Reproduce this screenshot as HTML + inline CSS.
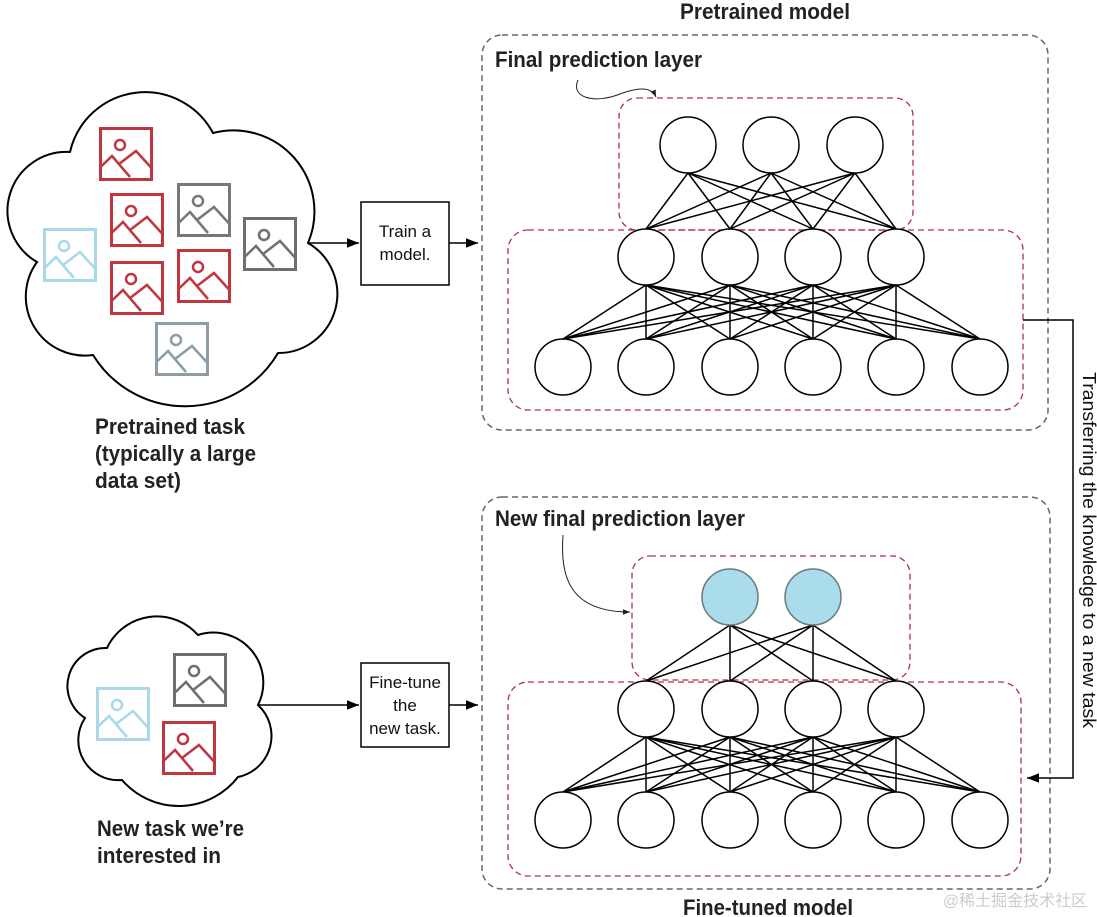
<!DOCTYPE html>
<html><head><meta charset="utf-8"><style>
html,body{margin:0;padding:0;background:#fff;}
svg{display:block;}
.b{font-family:"Liberation Sans",sans-serif;font-weight:bold;fill:#222;}
.r{font-family:"Liberation Sans",sans-serif;fill:#111;}
</style></head><body>
<svg id="s" width="1097" height="917" viewBox="0 0 1097 917" xmlns="http://www.w3.org/2000/svg">
<defs>
<marker id="ah" viewBox="0 0 10 10" refX="10" refY="5" markerWidth="8" markerHeight="8" orient="auto"><path d="M0,1 L10,5 L0,9 z" fill="#000"/></marker>
<marker id="ah2" viewBox="0 0 10 10" refX="10" refY="5" markerWidth="7" markerHeight="7" orient="auto"><path d="M0,1 L10,5 L0,9 z" fill="#222"/></marker>
<g id="ic">
<rect x="1.5" y="1.5" width="51" height="51" fill="#fff" stroke-width="3"/>
<circle cx="21" cy="18" r="5" fill="none" stroke-width="2.5"/>
<polyline points="1.5,40 13,29 31,50" fill="none" stroke-width="2.5"/>
<polyline points="20,37 37,24 52.5,41" fill="none" stroke-width="2.5"/>
</g>
</defs>

<!-- cloud 1 -->
<path d="M70,152 A77,77 0 0 1 213,133 A81,81 0 0 1 308,243 A59,59 0 0 1 278,353 A108,108 0 0 1 93,355 A59,59 0 0 1 37,262 A59,59 0 0 1 70,152 Z" fill="#fff" stroke="#000" stroke-width="2"/>
<use href="#ic" x="99" y="127" stroke="#c0363f"/>
<use href="#ic" x="110" y="193" stroke="#c0363f"/>
<use href="#ic" x="177" y="183" stroke="#777"/>
<use href="#ic" x="43" y="228" stroke="#a8d8ea"/>
<use href="#ic" x="243" y="217" stroke="#6b716c"/>
<use href="#ic" x="110" y="261" stroke="#c0363f"/>
<use href="#ic" x="177" y="249" stroke="#c0363f"/>
<use href="#ic" x="155" y="322" stroke="#8e9ca3"/>

<!-- cloud 2 -->
<path d="M107,648 A55,55 0 0 1 198,635 A50,50 0 0 1 258,705 A42,42 0 0 1 238,777 A75,75 0 0 1 122,780 A40,40 0 0 1 85,718 A38,38 0 0 1 107,648 Z" fill="#fff" stroke="#000" stroke-width="2"/>
<use href="#ic" x="173" y="653" stroke="#6b716c"/>
<use href="#ic" x="96" y="687" stroke="#a8d8ea"/>
<use href="#ic" x="162" y="721" stroke="#c0363f"/>

<text class="b" x="95" y="434" font-size="22" textLength="150" lengthAdjust="spacingAndGlyphs">Pretrained task</text>
<text class="b" x="95" y="461" font-size="22" textLength="161" lengthAdjust="spacingAndGlyphs">(typically a large</text>
<text class="b" x="95" y="488" font-size="22" textLength="86" lengthAdjust="spacingAndGlyphs">data set)</text>
<text class="b" x="97" y="836" font-size="22" textLength="147" lengthAdjust="spacingAndGlyphs">New task we’re</text>
<text class="b" x="97" y="863" font-size="22" textLength="124" lengthAdjust="spacingAndGlyphs">interested in</text>

<!-- process boxes -->
<line x1="308" y1="243" x2="359" y2="243" stroke="#000" stroke-width="1.5" marker-end="url(#ah)"/>
<rect x="361" y="202" width="88" height="83" fill="#fff" stroke="#000" stroke-width="1.5"/>
<text class="r" x="405" y="237" font-size="17" text-anchor="middle">Train a</text>
<text class="r" x="405" y="260" font-size="17" text-anchor="middle">model.</text>
<line x1="449" y1="243" x2="478" y2="243" stroke="#000" stroke-width="1.5" marker-end="url(#ah)"/>

<line x1="258" y1="705" x2="359" y2="705" stroke="#000" stroke-width="1.5" marker-end="url(#ah)"/>
<rect x="361" y="663" width="88" height="84" fill="#fff" stroke="#000" stroke-width="1.5"/>
<text class="r" x="405" y="688" font-size="17" text-anchor="middle">Fine-tune</text>
<text class="r" x="405" y="711" font-size="17" text-anchor="middle">the</text>
<text class="r" x="405" y="734" font-size="17" text-anchor="middle">new task.</text>
<line x1="449" y1="705" x2="478" y2="705" stroke="#000" stroke-width="1.5" marker-end="url(#ah)"/>

<!-- frames -->
<text class="b" x="680" y="19" font-size="22" textLength="170" lengthAdjust="spacingAndGlyphs">Pretrained model</text>
<rect x="482" y="35" width="566" height="395" rx="20" fill="none" stroke="#666" stroke-width="1.5" stroke-dasharray="6,4"/>
<text class="b" x="495" y="67" font-size="22" textLength="207" lengthAdjust="spacingAndGlyphs">Final prediction layer</text>
<path d="M578,80 C570,98 595,104 620,94 C642,86 652,88 656,97" fill="none" stroke="#222" stroke-width="1" marker-end="url(#ah2)"/>
<rect x="619" y="98" width="294" height="132" rx="18" fill="none" stroke="#b03040" stroke-width="1.3" stroke-dasharray="6,4"/>
<rect x="508" y="230" width="515" height="180" rx="20" fill="none" stroke="#b03040" stroke-width="1.3" stroke-dasharray="6,4"/>

<rect x="482" y="497" width="568" height="392" rx="20" fill="none" stroke="#666" stroke-width="1.5" stroke-dasharray="6,4"/>
<text class="b" x="495" y="526" font-size="22" textLength="250" lengthAdjust="spacingAndGlyphs">New final prediction layer</text>
<path d="M563,535 C560,575 568,612 630,612" fill="none" stroke="#222" stroke-width="1" marker-end="url(#ah2)"/>
<rect x="632" y="556" width="278" height="124" rx="18" fill="none" stroke="#b03040" stroke-width="1.3" stroke-dasharray="6,4"/>
<rect x="508" y="682" width="513" height="194" rx="20" fill="none" stroke="#b03040" stroke-width="1.3" stroke-dasharray="6,4"/>
<text class="b" x="683" y="915" font-size="22" textLength="170" lengthAdjust="spacingAndGlyphs">Fine-tuned model</text>
<text x="1015" y="906" font-size="16" fill="#ccc" text-anchor="middle" font-family="'Liberation Sans','Noto Sans CJK SC',sans-serif">@稀土掘金技术社区</text>

<!-- transfer connector -->
<polyline points="1023,320 1073,320 1073,778 1027,778" fill="none" stroke="#000" stroke-width="1.5" marker-end="url(#ah)"/>
<text class="r" x="1083" y="372" font-size="18" transform="rotate(90 1083 372)" textLength="356" lengthAdjust="spacingAndGlyphs">Transferring the knowledge to a new task</text>

<g id="net"></g>
</svg>
<script>
(function(){
var g=document.getElementById('net'),NS='http://www.w3.org/2000/svg',R=28;
function L(x1,y1,x2,y2){var l=document.createElementNS(NS,'line');l.setAttribute('x1',x1);l.setAttribute('y1',y1);l.setAttribute('x2',x2);l.setAttribute('y2',y2);l.setAttribute('stroke','#000');l.setAttribute('stroke-width','1.5');g.appendChild(l);}
function C(x,y,f,s){var c=document.createElementNS(NS,'ellipse');c.setAttribute('cx',x);c.setAttribute('cy',y);c.setAttribute('rx',28);c.setAttribute('ry',28);c.setAttribute('fill',f);c.setAttribute('stroke',s);c.setAttribute('stroke-width','1.5');g.appendChild(c);}
function conn(a,ya,b,yb){a.forEach(function(x1){b.forEach(function(x2){L(x1,ya+R,x2,yb-R);});});}
var mid=[646,730,813,896],bot=[563,646,730,813,896,980];
var top1=[688,771,855];
conn(top1,145,mid,257);conn(mid,257,bot,367);
top1.forEach(function(x){C(x,145,'#fff','#000');});
mid.forEach(function(x){C(x,257,'#fff','#000');});
bot.forEach(function(x){C(x,367,'#fff','#000');});
var top2=[730,813];
conn(top2,597,mid,709);conn(mid,709,bot,820);
top2.forEach(function(x){C(x,597,'#aadcec','#6b7b7e');});
mid.forEach(function(x){C(x,709,'#fff','#000');});
bot.forEach(function(x){C(x,820,'#fff','#000');});
})();
</script>
</body></html>
